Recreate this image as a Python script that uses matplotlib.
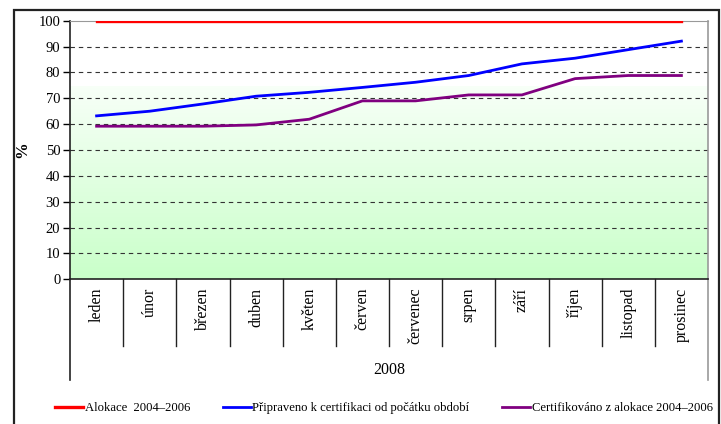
import matplotlib.pyplot as plt
import matplotlib.patches as mpatches
import numpy as np

plt.rcParams['font.family'] = ['Liberation Serif', 'DejaVu Serif']

# data
months = ['leden', 'únor', 'březen', 'duben', 'květen', 'červen',
          'červenec', 'srpen', 'září', 'říjen', 'listopad', 'prosinec']
alokace = [100] * 12
pripraveno = [63.2, 65.0, 67.8, 70.8, 72.3, 74.2, 76.2, 78.8, 83.3, 85.5, 88.8, 92.1]
certifikovano = [59.2, 59.2, 59.2, 59.7, 61.9, 69.0, 69.0, 71.3, 71.3, 77.6, 78.8, 78.8]
series_names = ['Alokace  2004–2006', 'Připraveno k certifikaci od počátku období',
                'Certifikováno z alokace 2004–2006']
year_label = '2008'

W, H = 721, 424
fig = plt.figure(figsize=(W / 100, H / 100), dpi=100)

# outer frame (cropped on right/bottom)
fig.patches.append(mpatches.Rectangle((14 / W, -0.05), (719 - 14) / W, 1.05 - 10 / H,
                                      transform=fig.transFigure, fill=False,
                                      edgecolor='#222222', linewidth=1.6))

ax = fig.add_axes([70 / W, 1 - 279.3 / H, 638 / W, 258.6 / H])
n = len(months)
x = np.arange(n)

# green gradient background
grad = np.linspace(0, 1, 100).reshape(-1, 1)
bottom_col = np.array([0.79, 1.0, 0.79])
top_col = np.array([0.97, 1.0, 0.97])
img = bottom_col + (top_col - bottom_col) * grad[:, :, None]
ax.imshow(img, extent=(-0.5, n - 0.5, 0, 74.5), aspect='auto', origin='lower', zorder=0)

for v in range(10, 100, 10):
    ax.axhline(v, color='#333333', lw=0.8, ls=(0, (4, 3.5)), zorder=1)

ax.plot(x, alokace, color='#ff0000', lw=2.4, zorder=3, label=series_names[0])
ax.plot(x, pripraveno, color='#0000ff', lw=2.0, zorder=3, label=series_names[1])
ax.plot(x, certifikovano, color='#800080', lw=2.0, zorder=3, label=series_names[2])

ax.set_xlim(-0.5, n - 0.5)
ax.set_ylim(0, 100)
ax.set_yticks(range(0, 101, 10))
ax.tick_params(axis='y', direction='out', length=5, width=1, labelsize=10.5, pad=2)
ax.set_xticks(x)
ax.set_xticklabels(months, rotation=90, fontsize=11.5)
ax.tick_params(axis='x', length=0, pad=6)

for s in ['left', 'bottom']:
    ax.spines[s].set_color('#222222')
    ax.spines[s].set_linewidth(1.2)
ax.spines['top'].set_color('#999999')
ax.spines['top'].set_linewidth(0.8)
ax.spines['right'].set_color('#999999')
ax.spines['right'].set_linewidth(1.2)

# category separators below the axis
ax_h = 258.6
sep_len = (346 - 279.3) / ax_h
out_len = (380 - 279.3) / ax_h
for i in range(1, n):
    ax.plot([i / n, i / n], [0, -sep_len], transform=ax.transAxes,
            color='#222222', lw=1, clip_on=False)
ax.plot([0, 0], [0, -out_len], transform=ax.transAxes, color='#222222', lw=1.2, clip_on=False)
ax.plot([1, 1], [0, -out_len], transform=ax.transAxes, color='#999999', lw=1.2, clip_on=False)

ax.text(0.5, -(370 - 279.3) / ax_h, year_label, transform=ax.transAxes,
        ha='center', va='center', fontsize=11.5)

fig.text(22 / W, 1 - 150 / H, '%', rotation=90, ha='center', va='center',
         fontsize=12, fontweight='bold')

fig.legend(loc='center', bbox_to_anchor=(384 / W, 1 - 408 / H), ncol=3,
           frameon=False, fontsize=9.1, handlelength=2.2, handletextpad=0.15,
           columnspacing=2.6)

fig.savefig('out.png', dpi=100)
